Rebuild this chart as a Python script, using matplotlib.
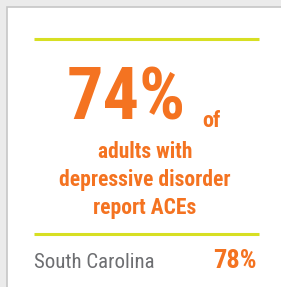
import matplotlib
matplotlib.use("Agg")
import matplotlib.pyplot as plt
from matplotlib.patches import Rectangle

# card content
headline_value = "74%"
headline_suffix = "of"
description_lines = ["adults with", "depressive disorder", "report ACEs"]
state_name = "South Carolina"
state_value = "78%"

orange = "#f47321"
lime = "#d7df23"
grey_text = "#6d6e71"

W, H = 281, 287
fig = plt.figure(figsize=(W / 100, H / 100), dpi=100, facecolor="#ebebeb")
ax = fig.add_axes([0, 0, 1, 1])
ax.set_xlim(0, W)
ax.set_ylim(H, 0)
ax.axis("off")

# white card with thin grey border (runs off right and bottom edges)
ax.add_patch(Rectangle((6.5, 6.5), 300, 300, facecolor="white",
                       edgecolor="#c6c6c6", linewidth=1.2))

# lime rules
ax.plot([34, 259], [39, 39], color=lime, linewidth=2.2, solid_capstyle="butt")
ax.plot([34, 259], [234, 234], color=lime, linewidth=2.2, solid_capstyle="butt")

bold = dict(family="Roboto Condensed", weight="bold", color=orange)

ax.text(126.5, 120, headline_value, fontsize=52, ha="center", va="baseline", **bold)
ax.text(202, 127, headline_suffix, fontsize=16, ha="left", va="baseline", **bold)

for i, line in enumerate(description_lines):
    ax.text(145, 158 + 28 * i, line, fontsize=15.5, ha="center",
            va="baseline", **bold)

ax.text(34, 268, state_name, fontsize=15, family="Roboto Condensed",
        color=grey_text, ha="left", va="baseline")
ax.text(257, 268, state_value, fontsize=19, ha="right", va="baseline", **bold)

fig.savefig("out.png", dpi=100, facecolor=fig.get_facecolor())
